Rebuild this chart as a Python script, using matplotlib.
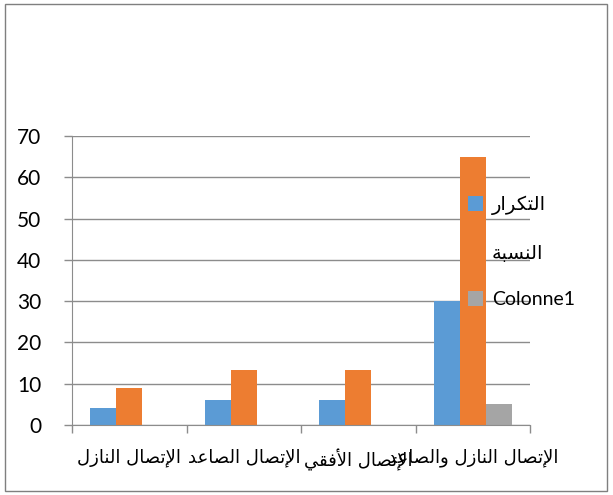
import numpy as np
import matplotlib.pyplot as plt
from matplotlib.patches import Rectangle

# Arabic written in presentation forms (logical order), reversed for display
def rtl(s):
    return s[::-1]

categories = [
    rtl('\uFE8D\uFEF9\uFE97\uFEBC\uFE8E\uFEDD \uFE8D\uFEDF\uFEE8\uFE8E\uFEAF\uFEDD'),
    rtl('\uFE8D\uFEF9\uFE97\uFEBC\uFE8E\uFEDD \uFE8D\uFEDF\uFEBC\uFE8E\uFECB\uFEAA'),
    rtl('\uFE8D\uFEF9\uFE97\uFEBC\uFE8E\uFEDD \uFE8D\uFEF7\uFED3\uFED8\uFEF2'),
    rtl('\uFE8D\uFEF9\uFE97\uFEBC\uFE8E\uFEDD \uFE8D\uFEDF\uFEE8\uFE8E\uFEAF\uFEDD '
        '\uFEED\uFE8D\uFEDF\uFEBC\uFE8E\uFECB\uFEAA'),
]
series_names = [
    rtl('\uFE8D\uFEDF\uFE98\uFEDC\uFEAE\uFE8D\uFEAD'),
    rtl('\uFE8D\uFEDF\uFEE8\uFEB4\uFE92\uFE94'),
    'Colonne1',
]
takrar = [4, 6, 6, 30]
nisba = [8.9, 13.3, 13.3, 65]
colonne1 = [0, 0, 0, 5]
colors = ['#5B9BD5', '#ED7D31', '#A5A5A5']

plt.rcParams['font.family'] = ['Lato', 'DejaVu Sans']

fig = plt.figure(figsize=(6.13, 4.95), dpi=100)
ax = fig.add_axes([72 / 613, 1 - 425 / 495, (530 - 72) / 613, (425 - 136) / 495])

x = np.arange(len(categories))
w = 0.226
for i, vals in enumerate([takrar, nisba, colonne1]):
    ax.bar(x + (i - 1) * w, vals, w, color=colors[i], label=series_names[i], zorder=2)

ax.set_xlim(-0.5, 3.5)
ax.set_ylim(0, 70)
ax.set_yticks(range(0, 71, 10))
ax.yaxis.grid(True, color='#8c8c8c', linewidth=1, zorder=0)

ax.set_xticks(x)
ax.set_xticklabels(categories, fontsize=13, family=['DejaVu Sans'])
ax.set_xticks(np.arange(-0.5, 4, 1), minor=True)
ax.tick_params(axis='x', which='major', length=0, pad=17)
ax.tick_params(axis='x', which='minor', length=6, color='#8c8c8c', width=1)
ax.tick_params(axis='y', length=6, color='#8c8c8c', width=1, labelsize=15, pad=16)

for side in ['top', 'right']:
    ax.spines[side].set_visible(False)
for side in ['left', 'bottom']:
    ax.spines[side].set_color('#8c8c8c')

leg = fig.legend(loc='upper left', bbox_to_anchor=(460 / 613, 1 - 188 / 495),
                 frameon=False, fontsize=14, handlelength=0.8, handleheight=0.8,
                 labelspacing=1.5, handletextpad=0.45, borderaxespad=0)

fig.patches.append(Rectangle((5 / 613, 4 / 495), 602 / 613, 487 / 495,
                             transform=fig.transFigure, fill=False,
                             edgecolor='#7f7f7f', linewidth=1))

plt.savefig('out.png', dpi=100)
